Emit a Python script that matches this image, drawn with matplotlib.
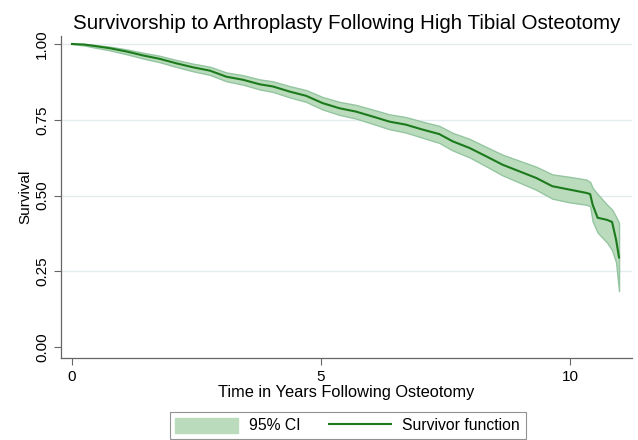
import matplotlib
matplotlib.use("Agg")
import matplotlib.pyplot as plt
from matplotlib.patches import Patch
from matplotlib.lines import Line2D

# Kaplan-Meier estimate
years = [0.0, 0.25, 0.43, 0.76, 1.10, 1.43, 1.76, 2.10, 2.43, 2.77, 3.10, 3.43,
         3.77, 4.03, 4.37, 4.70, 5.03, 5.37, 5.70, 6.03, 6.37, 6.70, 7.03, 7.37,
         7.64, 7.98, 8.32, 8.64, 8.98, 9.32, 9.64, 9.98, 10.32, 10.40, 10.45,
         10.55, 10.74, 10.84, 10.92, 10.98]
survival = [1.000, 0.998, 0.994, 0.986, 0.975, 0.962, 0.951, 0.936, 0.923, 0.912,
            0.892, 0.882, 0.867, 0.860, 0.843, 0.829, 0.805, 0.788, 0.777, 0.761,
            0.744, 0.734, 0.718, 0.703, 0.679, 0.657, 0.629, 0.602, 0.580, 0.558,
            0.531, 0.520, 0.509, 0.505, 0.470, 0.427, 0.420, 0.413, 0.355, 0.296]
ci_lower = [1.000, 0.995, 0.989, 0.979, 0.966, 0.952, 0.940, 0.924, 0.910, 0.898,
            0.877, 0.866, 0.850, 0.842, 0.824, 0.809, 0.784, 0.766, 0.754, 0.737,
            0.719, 0.708, 0.691, 0.674, 0.649, 0.626, 0.596, 0.567, 0.543, 0.519,
            0.490, 0.478, 0.470, 0.465, 0.415, 0.378, 0.345, 0.320, 0.280, 0.185]
ci_upper = [1.000, 1.000, 0.997, 0.991, 0.982, 0.971, 0.961, 0.947, 0.935, 0.925,
            0.906, 0.897, 0.883, 0.877, 0.861, 0.848, 0.825, 0.809, 0.799, 0.784,
            0.768, 0.759, 0.744, 0.730, 0.707, 0.687, 0.660, 0.635, 0.615, 0.595,
            0.570, 0.562, 0.553, 0.545, 0.525, 0.505, 0.470, 0.454, 0.430, 0.410]

x_ticks = [0, 5, 10]
y_ticks = [0.0, 0.25, 0.5, 0.75, 1.0]
y_labels = ["0.00", "0.25", "0.50", "0.75", "1.00"]

line_col = "#1c7a1c"
fill_col = "#badcbd"
edge_col = "#94c5a0"

plt.rcParams["font.family"] = ["Liberation Sans", "DejaVu Sans"]

fig = plt.figure(figsize=(6.38, 4.4), dpi=100)
ax = fig.add_axes([0.0956, 0.186, 0.8950, 0.732])

ax.fill_between(years, ci_lower, ci_upper, facecolor=fill_col,
                edgecolor=edge_col, linewidth=1.0, zorder=2)
ax.plot(years, survival, color=line_col, linewidth=1.5, zorder=3)

ax.set_xlim(-0.22, 11.24)
ax.set_ylim(-0.036, 1.026)
ax.set_xticks(x_ticks)
ax.set_yticks(y_ticks)
ax.set_yticklabels(y_labels, rotation=90, va="center")
ax.tick_params(axis="both", labelsize=11, color="#666666", length=5, width=0.8)

ax.yaxis.grid(True, color="#e3ecef", linewidth=1.0, zorder=0)
ax.yaxis.get_gridlines()[0].set_visible(False)
ax.set_axisbelow(True)

for side in ["top", "right"]:
    ax.spines[side].set_visible(False)
for side in ["left", "bottom"]:
    ax.spines[side].set_color("#666666")
    ax.spines[side].set_linewidth(0.9)

ax.set_title("Survivorship to Arthroplasty Following High Tibial Osteotomy",
             fontsize=14.8, pad=5)
ax.set_xlabel("Time in Years Following Osteotomy", fontsize=11.8, labelpad=1)
ax.set_ylabel("Survival", fontsize=11, labelpad=2)

handles = [Patch(facecolor=fill_col, edgecolor=fill_col),
           Line2D([0], [0], color=line_col, linewidth=1.5)]
leg = fig.legend(handles, ["95% CI", "Survivor function"], loc="upper center",
                 bbox_to_anchor=(0.5447, 0.0636), borderaxespad=0, ncol=2,
                 frameon=True, fancybox=False, fontsize=11.3, handlelength=4.0,
                 handleheight=1.1, handletextpad=0.7, columnspacing=1.8,
                 borderpad=0.35)
leg.get_frame().set_edgecolor("#777777")
leg.get_frame().set_linewidth(0.8)

fig.savefig("out.png", dpi=100)
